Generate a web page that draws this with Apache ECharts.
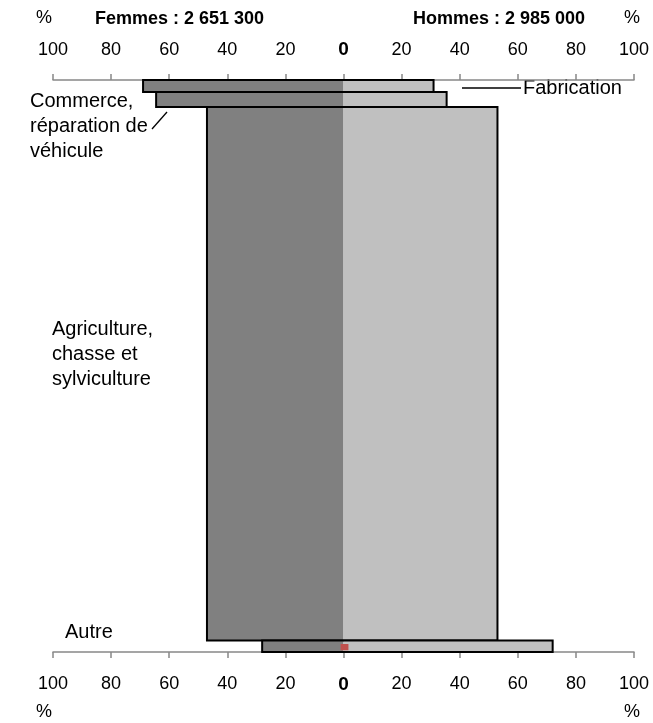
<!DOCTYPE html>
<html>
<head>
<meta charset="utf-8">
<script src="https://cdn.jsdelivr.net/npm/echarts@6/dist/echarts.min.js"></script>
<style>
html,body{margin:0;padding:0;background:#fff;}
#c{width:653px;height:723px;}
</style>
</head>
<body>
<div id="c"></div>
<script>
// ---- data ----
const categories = ['Fabrication', 'Commerce, réparation de véhicule', 'Agriculture, chasse et sylviculture', 'Autre'];
const femmesPct = [69, 64.5, 47, 28];      // % of women (left side)
const hommesPct = [31, 35.5, 53, 72];      // % of men (right side)
const partEmploi = [2.1, 2.6, 93.3, 2.0];  // bar thickness (share of employment)
const tickValues = [-100, -80, -60, -40, -20, 0, 20, 40, 60, 80, 100];
// tiny red marker near 0 at the bottom: [femmes, hommes, start, end]
const redMark = [1, 1.7, 98.6, 99.7];

const FONT = 'Liberation Sans, Arial, sans-serif';

// build custom-series data: [femmes, hommes, yStart, yEnd, name]
let acc = 0;
const barData = categories.map((c, i) => {
  const s = acc; acc += partEmploi[i];
  return [femmesPct[i], hommesPct[i], s, acc, c];
});

const chart = echarts.init(document.getElementById('c'), null, {renderer: 'canvas'});

const axisLabelFmt = v => (v === 0 ? '{z|0}' : String(Math.abs(v)));
const axisCommon = {
  type: 'value', min: -100, max: 100, interval: 20,
  splitLine: {show: false},
  axisLine: {show: true, lineStyle: {color: '#888', width: 1.5}},
  axisTick: {show: true, length: 6, lineStyle: {color: '#888', width: 1.5}},
  axisLabel: {
    formatter: axisLabelFmt, color: '#000', fontSize: 18, fontFamily: FONT,
    rich: {z: {fontWeight: 'bold', fontSize: 19, fontFamily: FONT, color: '#000'}}
  }
};

function renderBar(params, api) {
  const w = api.value(0), m = api.value(1), y0 = api.value(2), y1 = api.value(3);
  const pL = api.coord([-w, y0]);
  const p0 = api.coord([0, y1]);
  const pR = api.coord([m, y1]);
  const top = pL[1], h = p0[1] - pL[1];
  return {
    type: 'group',
    children: [
      {type: 'rect', shape: {x: pL[0], y: top, width: p0[0] - pL[0], height: h}, style: {fill: '#808080'}},
      {type: 'rect', shape: {x: p0[0], y: top, width: pR[0] - p0[0], height: h}, style: {fill: '#c0c0c0'}},
      {type: 'rect', shape: {x: pL[0], y: top, width: pR[0] - pL[0], height: h},
       style: {fill: 'none', stroke: '#000', lineWidth: 2}}
    ]
  };
}

function renderRed(params, api) {
  const pL = api.coord([-api.value(0), api.value(2)]);
  const pR = api.coord([api.value(1), api.value(3)]);
  return {type: 'rect', shape: {x: pL[0], y: pL[1], width: pR[0] - pL[0], height: pR[1] - pL[1]},
          style: {fill: '#c0504d'}};
}

const option = {
  animation: false,
  backgroundColor: '#fff',
  grid: {left: 53, right: 19, top: 80, bottom: 71},
  xAxis: [
    Object.assign({}, axisCommon, {position: 'top', axisLabel: Object.assign({}, axisCommon.axisLabel, {margin: 21})}),
    Object.assign({}, axisCommon, {position: 'bottom', axisLabel: Object.assign({}, axisCommon.axisLabel, {margin: 23})})
  ],
  yAxis: {type: 'value', min: 0, max: 100, inverse: true, show: false},
  series: [
    {type: 'custom', xAxisIndex: 0, renderItem: renderBar, data: barData, encode: {x: [0, 1], y: [2, 3]}},
    {type: 'custom', xAxisIndex: 0, renderItem: renderRed, data: [redMark], z: 5}
  ],
  graphic: [
    {type: 'text', left: 36, top: 9, style: {text: '%', font: '18px ' + FONT, fill: '#000'}},
    {type: 'text', left: 95, top: 10, style: {text: 'Femmes : 2 651 300', font: 'bold 18px ' + FONT, fill: '#000'}},
    {type: 'text', left: 413, top: 10, style: {text: 'Hommes : 2 985 000', font: 'bold 18px ' + FONT, fill: '#000'}},
    {type: 'text', left: 624, top: 9, style: {text: '%', font: '18px ' + FONT, fill: '#000'}},
    {type: 'text', left: 36, top: 703, style: {text: '%', font: '18px ' + FONT, fill: '#000'}},
    {type: 'text', left: 624, top: 703, style: {text: '%', font: '18px ' + FONT, fill: '#000'}},
    // category labels
    {type: 'text', left: 523, top: 78, style: {text: 'Fabrication', font: '20px ' + FONT, fill: '#000'}},
    {type: 'line', shape: {x1: 462, y1: 88, x2: 521, y2: 88}, style: {stroke: '#000', lineWidth: 1.3}},
    {type: 'text', left: 30, top: 89, style: {text: 'Commerce,\nréparation de\nvéhicule', font: '20px ' + FONT, fill: '#000', lineHeight: 25}},
    {type: 'line', shape: {x1: 152, y1: 129, x2: 167, y2: 112}, style: {stroke: '#000', lineWidth: 1.3}},
    {type: 'text', left: 52, top: 317, style: {text: 'Agriculture,\nchasse et\nsylviculture', font: '20px ' + FONT, fill: '#000', lineHeight: 25}},
    {type: 'text', left: 65, top: 622, style: {text: 'Autre', font: '20px ' + FONT, fill: '#000'}}
  ]
};
// bottom axis series binding (so both axes share scale)
option.series.push({type: 'custom', xAxisIndex: 1, renderItem: () => ({type: 'group', children: []}), data: [[0, 0]]});
chart.setOption(option);
</script>
</body>
</html>
